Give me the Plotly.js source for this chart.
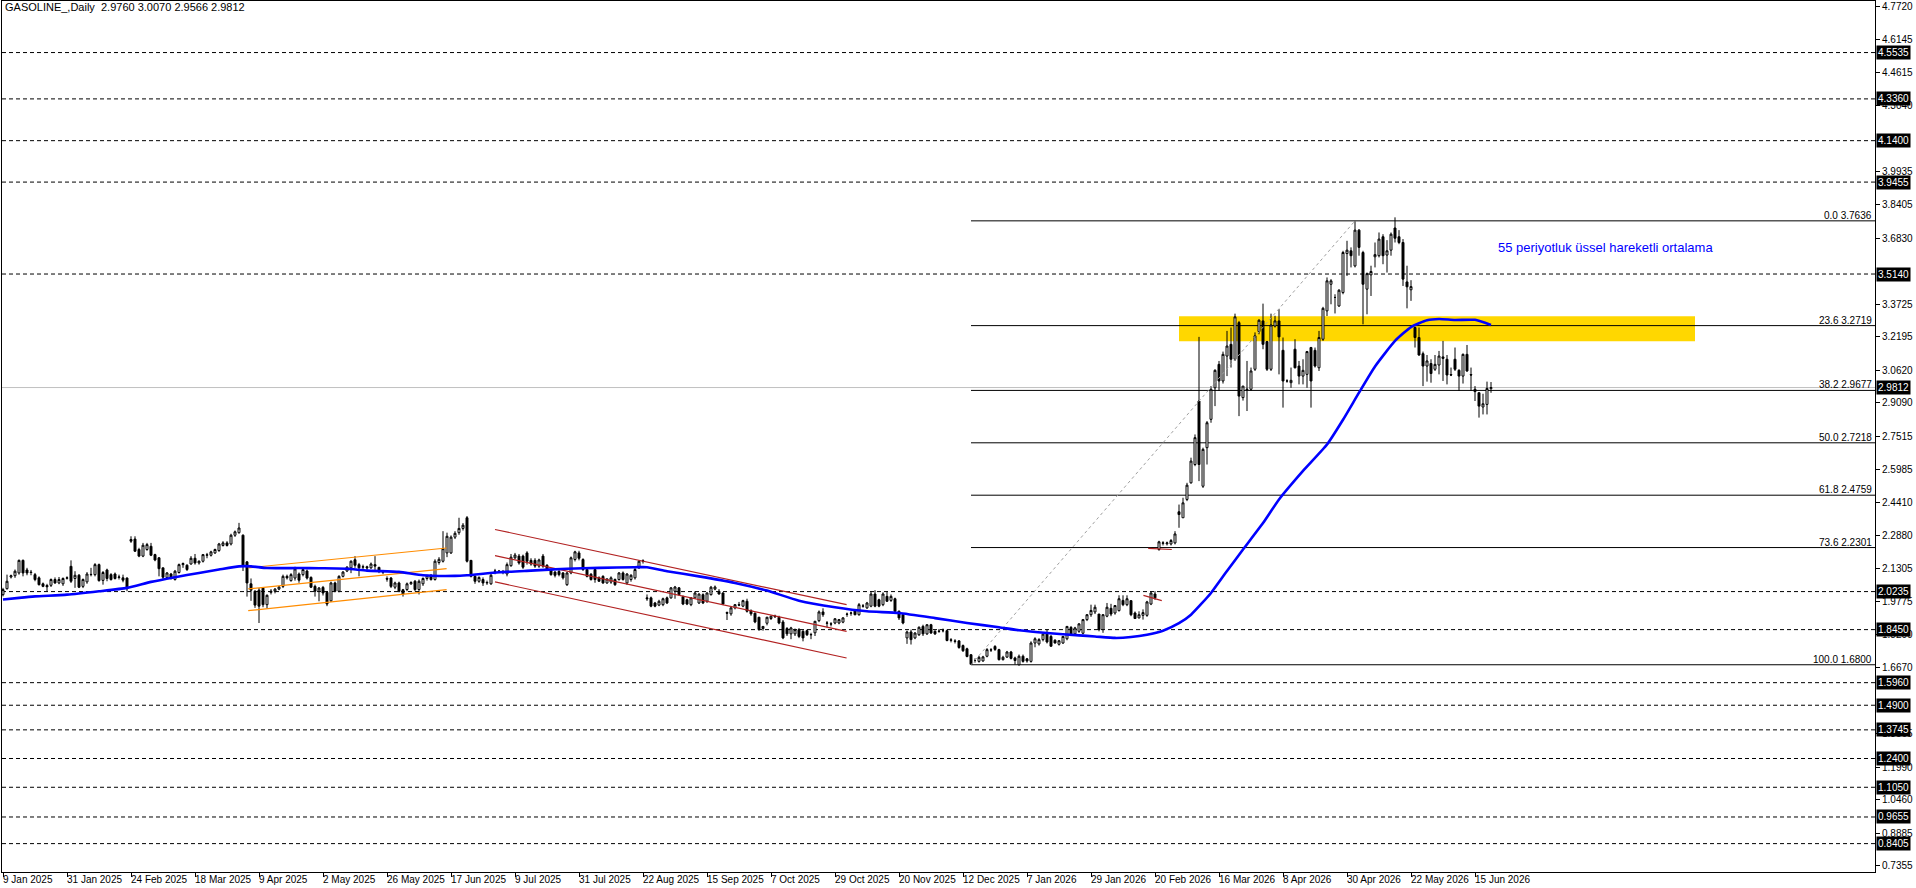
<!DOCTYPE html>
<html>
<head>
<meta charset="utf-8">
<script src="https://cdn.plot.ly/plotly-3.0.1.min.js"></script>
<style>html,body{margin:0;padding:0;background:#fff;}#chart{width:1916px;height:888px;}</style>
</head>
<body>
<div id="chart"></div>
<script>
// ---------- DATA ----------
const chartTitle = 'GASOLINE_,Daily\u00A0\u00A02.9760 3.0070 2.9566 2.9812';

const xTickLabels = ['9 Jan 2025','31 Jan 2025','24 Feb 2025','18 Mar 2025','9 Apr 2025','2 May 2025','26 May 2025','17 Jun 2025','9 Jul 2025','31 Jul 2025','22 Aug 2025','15 Sep 2025','7 Oct 2025','29 Oct 2025','20 Nov 2025','12 Dec 2025','7 Jan 2026','29 Jan 2026','20 Feb 2026','16 Mar 2026','8 Apr 2026','30 Apr 2026','22 May 2026','15 Jun 2026'];
const barsPerLabel = 16;

const open = [
2.009,2.037,2.092,2.098,2.111,2.170,2.125,2.115,2.103,2.088,
2.060,2.052,2.053,2.080,2.064,2.060,2.086,2.142,2.085,2.100,
2.048,2.069,2.103,2.103,2.150,2.076,2.125,2.103,2.106,2.090,
2.088,2.087,2.268,2.270,2.221,2.190,2.221,2.236,2.197,2.182,
2.135,2.090,2.106,2.080,2.113,2.150,2.147,2.153,2.180,2.158,
2.166,2.194,2.194,2.205,2.216,2.240,2.252,2.247,2.288,2.300,
2.288,2.163,2.060,2.025,2.030,2.040,1.962,2.020,2.025,2.035,
2.048,2.095,2.075,2.087,2.106,2.103,2.120,2.090,2.048,2.025,
2.043,2.020,1.980,2.064,2.025,2.095,2.120,2.135,2.173,2.150,
2.138,2.140,2.135,2.150,2.137,2.118,2.085,2.087,2.044,2.064,
2.032,2.033,2.060,2.072,2.033,2.060,2.085,2.100,2.080,2.160,
2.166,2.205,2.205,2.279,2.300,2.320,2.370,2.170,2.095,2.072,
2.080,2.064,2.060,2.118,2.120,2.116,2.106,2.145,2.182,2.190,
2.190,2.205,2.170,2.170,2.143,2.190,2.147,2.127,2.115,2.118,
2.111,2.056,2.111,2.174,2.205,2.174,2.127,2.105,2.127,2.088,
2.095,2.064,2.068,2.080,2.080,2.111,2.064,2.080,2.088,2.135,
2.166,1.994,1.994,1.970,1.960,1.962,1.994,1.994,2.025,2.041,
2.000,1.985,1.962,1.994,1.970,2.009,1.978,2.009,2.035,2.025,
2.017,1.925,1.919,1.947,1.962,1.955,1.978,1.934,1.922,1.903,
1.850,1.875,1.897,1.905,1.903,1.881,1.850,1.825,1.825,1.845,
1.837,1.840,1.822,1.830,1.887,1.928,1.875,1.872,1.876,1.876,
1.880,1.918,1.922,1.934,1.915,1.955,1.947,1.955,2.012,1.985,
1.962,2.001,1.982,1.990,1.931,1.915,1.806,1.834,1.806,1.821,
1.860,1.825,1.868,1.837,1.838,1.840,1.840,1.797,1.792,1.792,
1.770,1.755,1.727,1.700,1.696,1.698,1.720,1.749,1.766,1.751,
1.704,1.716,1.740,1.712,1.680,1.720,1.708,1.696,1.782,1.778,
1.798,1.824,1.813,1.795,1.776,1.782,1.802,1.855,1.825,1.837,
1.828,1.892,1.915,1.928,1.918,1.845,1.908,1.945,1.923,1.934,
1.982,1.962,1.981,1.923,1.900,1.912,1.912,1.965,2.012,2.221,
2.250,2.248,2.247,2.252,2.398,2.370,2.456,2.534,2.620,2.918,
2.518,2.699,2.832,2.980,3.090,3.012,3.129,3.184,3.114,3.286,
2.934,2.970,2.973,3.067,3.244,3.294,3.197,3.067,3.270,3.294,
3.156,3.012,3.004,3.161,3.082,3.035,3.043,3.169,3.156,3.074,
3.208,3.341,3.466,3.404,3.364,3.427,3.610,3.623,3.552,3.720,
3.615,3.443,3.510,3.595,3.600,3.689,3.603,3.626,3.730,3.689,
3.662,3.477,3.440,3.263,3.216,3.140,3.082,3.094,3.067,3.087,
3.125,3.114,3.042,3.114,3.062,3.035,3.137,3.042,2.973,2.957,
2.890,2.902,2.976];

const high = [
2.041,2.103,2.103,2.127,2.174,2.174,2.135,2.125,2.111,2.095,
2.066,2.060,2.085,2.090,2.092,2.090,2.095,2.170,2.119,2.106,
2.085,2.115,2.135,2.157,2.155,2.120,2.131,2.110,2.113,2.103,
2.103,2.090,2.283,2.283,2.229,2.252,2.252,2.252,2.201,2.185,
2.135,2.115,2.111,2.125,2.155,2.160,2.152,2.190,2.200,2.170,
2.200,2.205,2.215,2.225,2.252,2.260,2.260,2.295,2.310,2.346,
2.292,2.166,2.085,2.030,2.040,2.045,2.010,2.035,2.040,2.050,
2.103,2.103,2.110,2.140,2.113,2.133,2.127,2.095,2.056,2.045,
2.050,2.025,2.070,2.070,2.100,2.120,2.143,2.170,2.190,2.158,
2.150,2.145,2.160,2.190,2.140,2.125,2.095,2.092,2.070,2.070,
2.036,2.066,2.072,2.078,2.080,2.090,2.103,2.106,2.175,2.185,
2.307,2.300,2.287,2.307,2.370,2.345,2.378,2.172,2.100,2.095,
2.090,2.075,2.108,2.130,2.125,2.125,2.160,2.200,2.205,2.200,
2.197,2.213,2.180,2.180,2.178,2.200,2.152,2.130,2.120,2.125,
2.115,2.115,2.188,2.215,2.215,2.180,2.135,2.110,2.135,2.095,
2.100,2.085,2.095,2.085,2.115,2.118,2.110,2.105,2.135,2.170,
2.175,2.010,2.000,1.975,1.985,1.995,2.000,2.045,2.050,2.045,
2.005,1.990,1.998,2.025,2.015,2.015,2.020,2.050,2.052,2.035,
2.020,1.930,1.955,1.965,1.975,1.985,1.990,1.940,1.925,1.905,
1.862,1.905,1.910,1.915,1.910,1.890,1.857,1.858,1.850,1.852,
1.842,1.845,1.830,1.886,1.935,1.945,1.885,1.880,1.898,1.895,
1.903,1.925,1.930,1.940,1.970,1.965,1.975,2.025,2.030,1.990,
2.020,2.025,2.010,1.995,1.935,1.920,1.840,1.845,1.833,1.860,
1.868,1.870,1.872,1.842,1.848,1.850,1.845,1.805,1.800,1.796,
1.775,1.760,1.730,1.710,1.722,1.722,1.758,1.758,1.772,1.755,
1.722,1.745,1.745,1.718,1.728,1.728,1.712,1.790,1.809,1.805,
1.825,1.845,1.820,1.800,1.795,1.815,1.862,1.862,1.858,1.875,
1.895,1.918,1.962,1.962,1.918,1.918,1.970,1.966,1.960,2.006,
2.006,2.006,1.981,1.930,1.931,1.940,1.980,2.025,2.025,2.262,
2.260,2.258,2.270,2.307,2.432,2.464,2.534,2.652,2.761,3.219,
2.699,2.824,2.988,3.067,3.106,3.150,3.247,3.263,3.328,3.294,
2.988,3.106,3.075,3.240,3.302,3.375,3.200,3.328,3.318,3.349,
3.216,3.020,3.075,3.208,3.106,3.114,3.153,3.172,3.169,3.247,
3.360,3.498,3.490,3.419,3.443,3.623,3.670,3.639,3.761,3.725,
3.623,3.521,3.553,3.662,3.709,3.701,3.673,3.709,3.780,3.720,
3.678,3.553,3.485,3.266,3.263,3.150,3.134,3.114,3.134,3.153,
3.200,3.134,3.075,3.169,3.067,3.141,3.181,3.075,2.988,2.957,
2.952,3.009,3.007];

const low = [
2.001,2.033,2.085,2.088,2.103,2.095,2.100,2.100,2.072,2.052,
2.044,2.025,2.045,2.060,2.058,2.050,2.080,2.064,2.041,2.040,
2.040,2.060,2.095,2.095,2.070,2.056,2.072,2.075,2.080,2.080,
2.067,2.025,2.252,2.210,2.185,2.185,2.215,2.190,2.166,2.095,
2.080,2.085,2.080,2.075,2.108,2.135,2.120,2.150,2.150,2.150,
2.160,2.180,2.188,2.200,2.210,2.235,2.235,2.240,2.280,2.295,
2.120,2.000,1.980,1.947,1.876,1.950,1.945,2.010,2.015,2.030,
2.040,2.080,2.070,2.075,2.065,2.095,2.080,2.040,2.000,1.978,
2.005,1.955,1.975,2.020,2.020,2.090,2.115,2.110,2.135,2.095,
2.125,2.125,2.130,2.125,2.110,2.105,2.070,2.040,2.035,2.020,
2.000,2.025,2.055,2.025,2.010,2.050,2.075,2.075,2.075,2.150,
2.160,2.185,2.200,2.270,2.290,2.310,2.160,2.090,2.060,2.065,
2.050,2.055,2.055,2.105,2.110,2.105,2.095,2.140,2.175,2.150,
2.130,2.150,2.145,2.135,2.135,2.135,2.120,2.098,2.090,2.095,
2.080,2.050,2.105,2.165,2.170,2.120,2.090,2.075,2.065,2.070,
2.060,2.060,2.060,2.050,2.075,2.075,2.055,2.070,2.080,2.130,
2.155,1.980,1.950,1.950,1.955,1.955,1.965,1.990,1.990,2.005,
1.960,1.960,1.955,1.990,1.965,1.965,1.970,2.005,2.030,2.010,
1.960,1.890,1.910,1.940,1.955,1.950,1.925,1.910,1.875,1.840,
1.840,1.865,1.890,1.900,1.870,1.800,1.815,1.800,1.815,1.805,
1.790,1.815,1.800,1.815,1.880,1.905,1.855,1.860,1.870,1.870,
1.875,1.905,1.910,1.912,1.910,1.948,1.942,1.950,1.950,1.950,
1.955,1.975,1.975,1.925,1.890,1.870,1.778,1.775,1.800,1.815,
1.815,1.820,1.825,1.820,1.830,1.832,1.790,1.785,1.780,1.755,
1.740,1.715,1.680,1.690,1.690,1.694,1.715,1.740,1.745,1.700,
1.700,1.712,1.705,1.681,1.676,1.690,1.690,1.690,1.762,1.770,
1.790,1.780,1.765,1.780,1.770,1.778,1.795,1.818,1.820,1.830,
1.823,1.885,1.905,1.918,1.837,1.830,1.903,1.908,1.915,1.930,
1.955,1.955,1.908,1.895,1.897,1.892,1.905,1.960,1.985,2.215,
2.240,2.240,2.240,2.245,2.323,2.370,2.448,2.530,2.612,2.542,
2.510,2.620,2.816,2.894,2.965,3.000,3.035,3.075,3.106,2.847,
2.920,2.871,2.965,3.059,3.231,3.161,3.059,3.059,3.263,3.043,
2.887,3.004,2.980,3.071,2.996,2.996,2.980,2.887,3.075,3.059,
3.200,3.317,3.372,3.329,3.360,3.419,3.505,3.545,3.545,3.600,
3.278,3.325,3.411,3.545,3.592,3.560,3.521,3.600,3.662,3.654,
3.458,3.353,3.388,3.169,3.130,2.988,3.009,3.004,3.059,3.043,
3.012,2.996,3.035,3.059,2.965,3.000,3.055,2.965,2.918,2.840,
2.855,2.855,2.9566];

const close = [
2.033,2.072,2.098,2.119,2.170,2.111,2.111,2.113,2.080,2.056,
2.048,2.046,2.080,2.064,2.080,2.085,2.088,2.072,2.100,2.044,
2.080,2.106,2.104,2.150,2.075,2.113,2.085,2.080,2.085,2.092,
2.077,2.037,2.260,2.213,2.190,2.241,2.244,2.194,2.172,2.131,
2.091,2.111,2.088,2.119,2.150,2.155,2.127,2.180,2.158,2.166,
2.197,2.196,2.210,2.221,2.247,2.252,2.240,2.288,2.304,2.322,
2.147,2.064,2.030,1.960,1.955,1.962,2.006,2.025,2.035,2.045,
2.095,2.088,2.103,2.130,2.077,2.127,2.087,2.044,2.025,2.040,
2.017,1.965,2.064,2.025,2.095,2.115,2.138,2.166,2.147,2.135,
2.140,2.135,2.153,2.143,2.118,2.115,2.082,2.048,2.064,2.025,
2.012,2.060,2.066,2.033,2.072,2.085,2.098,2.080,2.166,2.175,
2.225,2.283,2.279,2.297,2.320,2.335,2.166,2.095,2.072,2.090,
2.064,2.066,2.100,2.120,2.118,2.118,2.150,2.185,2.195,2.158,
2.138,2.166,2.153,2.143,2.172,2.143,2.127,2.103,2.100,2.103,
2.088,2.111,2.182,2.210,2.180,2.127,2.095,2.080,2.080,2.072,
2.064,2.083,2.088,2.056,2.111,2.080,2.106,2.100,2.127,2.166,
2.168,1.990,1.955,1.955,1.978,1.990,1.970,2.041,2.045,2.009,
1.965,1.965,1.994,2.017,2.012,1.970,2.017,2.044,2.045,2.012,
1.965,1.922,1.947,1.962,1.960,1.981,1.931,1.919,1.881,1.845,
1.860,1.903,1.908,1.908,1.876,1.806,1.825,1.853,1.845,1.813,
1.806,1.821,1.821,1.884,1.928,1.915,1.876,1.871,1.896,1.892,
1.900,1.917,1.923,1.915,1.962,1.956,1.970,2.012,1.955,1.955,
2.012,1.978,2.001,1.931,1.900,1.876,1.834,1.798,1.829,1.856,
1.825,1.868,1.829,1.825,1.837,1.840,1.794,1.795,1.790,1.761,
1.746,1.719,1.682,1.700,1.715,1.717,1.751,1.750,1.752,1.704,
1.715,1.740,1.710,1.700,1.720,1.696,1.698,1.782,1.802,1.798,
1.824,1.787,1.767,1.782,1.793,1.813,1.860,1.821,1.853,1.872,
1.892,1.915,1.935,1.950,1.845,1.915,1.950,1.918,1.958,1.990,
1.962,1.990,1.915,1.897,1.915,1.925,1.975,2.017,1.994,2.257,
2.252,2.252,2.263,2.294,2.385,2.440,2.523,2.636,2.746,2.620,
2.691,2.816,2.973,3.062,3.012,3.137,3.176,3.114,3.313,2.941,
2.988,2.973,3.059,3.224,3.297,3.184,3.067,3.275,3.294,3.219,
3.012,3.012,3.015,3.074,3.035,3.062,3.150,3.012,3.082,3.216,
3.353,3.482,3.482,3.404,3.438,3.615,3.626,3.600,3.720,3.639,
3.466,3.516,3.526,3.605,3.678,3.600,3.623,3.701,3.682,3.662,
3.490,3.454,3.455,3.216,3.134,3.082,3.106,3.047,3.090,3.129,
3.118,3.040,3.040,3.067,3.035,3.137,3.059,3.040,2.962,2.894,
2.905,2.977,2.9812];

// 55-period EMA (bar index, value)
const emaIndex = [0,4,8,16,24,31,37,43,49,54,59,62,66,74,79,86,91,99,105,113,116,124,132,141,149,158,161,166,174,183,191,199,208,216,224,233,241,249,254,261,269,273,278,282,286,290,294,297,302,306,310,315,319,325,331,335,339,343,348,352,356,359,363,368,372];
const emaValue = [1.986,1.994,2.001,2.009,2.025,2.041,2.069,2.091,2.111,2.127,2.142,2.142,2.134,2.134,2.133,2.131,2.122,2.116,2.100,2.097,2.100,2.114,2.122,2.131,2.135,2.138,2.138,2.119,2.095,2.064,2.028,1.981,1.950,1.931,1.923,1.899,1.876,1.856,1.842,1.829,1.818,1.813,1.806,1.810,1.821,1.840,1.875,1.915,2.017,2.120,2.221,2.345,2.456,2.590,2.714,2.830,2.957,3.080,3.200,3.265,3.297,3.303,3.298,3.299,3.275];

// horizontal levels (dashed) and current price
const dashedLevels = [4.5535,4.3360,4.1400,3.9455,3.5140,2.0235,1.8450,1.5960,1.4900,1.3745,1.2400,1.1050,0.9655,0.8405];
const currentPrice = 2.9812;

// right-axis ticks
const yTickValues = [4.7720,4.6145,4.4615,4.3040,3.9935,3.8405,3.6830,3.3725,3.2195,3.0620,2.9090,2.7515,2.5985,2.4410,2.2880,2.1305,1.9775,1.8200,1.6670,1.3565,1.1990,1.0460,0.8885,0.7355];
const yTickLabels = ['4.7720','4.6145','4.4615','4.3040','3.9935','3.8405','3.6830','3.3725','3.2195','3.0620','2.9090','2.7515','2.5985','2.4410','2.2880','2.1305','1.9775','1.8200','1.6670','1.3565','1.1990','1.0460','0.8885','0.7355'];

// Fibonacci retracement
const fibPercents = ['0.0','23.6','38.2','50.0','61.8','73.6','100.0'];
const fibPrices = [3.7636,3.2719,2.9677,2.7218,2.4759,2.2301,1.6800];
const fibAnchor = [242, 1.6800, 338, 3.7636]; // low bar, low price, high bar, high price

// drawn trendlines: [bar0, price0, bar1, price1]
const orangeChannel = [[61.3,2.135,110.9,2.228],[61.3,2.036,110.9,2.131],[61.3,1.934,110.9,2.033]];
const redChannel = [[123,2.315,210.9,1.962],[123,2.1925,210.9,1.837],[123,2.0688,210.9,1.7116],[285.1,2.006,289.7,1.981],[286.3,2.226,292.2,2.221]];

// yellow zone: [bar0, price0, bar1, price1]
const yellowZone = [294, 3.1985, 423, 3.316];

const noteText = '55 periyotluk üssel hareketli ortalama';
const notePos = [373.2, 3.640];

// ---------- BUILD ----------
const n = close.length;
const barIdx = close.map((_, i) => i);
const xMin = -0.25, xMax = 468;
const yMin = 0.7073, yMax = 4.7955;
const FONT = 'Liberation Sans, Arial, sans-serif';

const traces = [];
traces.push({
  type: 'candlestick', x: barIdx, open: open, high: high, low: low, close: close,
  increasing: {line: {color: '#000000', width: 1}, fillcolor: '#FFFFFF'},
  decreasing: {line: {color: '#000000', width: 1}, fillcolor: '#000000'},
  whiskerwidth: 0, hoverinfo: 'skip', showlegend: false
});
function seg(lines, color, width, dash) {
  const xs = [], ys = [];
  lines.forEach(l => { xs.push(l[0], l[2], null); ys.push(l[1], l[3], null); });
  return {type: 'scatter', mode: 'lines', x: xs, y: ys, line: {color: color, width: width, dash: dash || 'solid'}, hoverinfo: 'skip', showlegend: false};
}
traces.push(seg(orangeChannel, '#FF8C00', 1.2));
traces.push(seg(redChannel, '#B22222', 1.2));
traces.push(seg([fibAnchor], '#A0A0A0', 1, '3px,3px'));
traces.push({type: 'scatter', mode: 'lines', x: emaIndex, y: emaValue, line: {color: '#0000FF', width: 2.6, shape: 'spline', smoothing: 0.5}, hoverinfo: 'skip', showlegend: false});

const shapes = [];
shapes.push({type: 'rect', layer: 'below', xref: 'x', yref: 'y', x0: yellowZone[0], x1: yellowZone[2], y0: yellowZone[1], y1: yellowZone[3], fillcolor: '#FFD700', line: {width: 0}});
dashedLevels.forEach(v => shapes.push({type: 'line', layer: 'below', xref: 'paper', yref: 'y', x0: 0, x1: 1, y0: v, y1: v, line: {color: '#000000', width: 1, dash: '4px,3px'}}));
shapes.push({type: 'line', layer: 'below', xref: 'paper', yref: 'y', x0: 0, x1: 1, y0: currentPrice, y1: currentPrice, line: {color: '#C0C0C0', width: 1}});
fibPrices.forEach(v => shapes.push({type: 'line', layer: 'below', xref: 'x', yref: 'y', x0: fibAnchor[0], x1: xMax, y0: v, y1: v, line: {color: '#000000', width: 1}}));

const annotations = [];
// date labels, left-aligned at their tick like the original terminal
xTickLabels.forEach((t, k) => annotations.push({
  xref: 'x', yref: 'paper', x: k * barsPerLabel, y: 0, xanchor: 'left', yanchor: 'top', xshift: -1, yshift: -1,
  text: t, showarrow: false, borderpad: 0, font: {family: FONT, size: 10, color: '#000000'}
}));
fibPrices.forEach((v, k) => annotations.push({
  xref: 'paper', yref: 'y', x: 1, y: v, xanchor: 'right', yanchor: 'bottom', xshift: -1, yshift: -2,
  text: fibPercents[k] + ' ' + v.toFixed(4), showarrow: false, font: {family: FONT, size: 10, color: '#000000'}
}));
dashedLevels.concat([currentPrice]).forEach(v => annotations.push({
  xref: 'paper', yref: 'y', x: 1, y: v, xanchor: 'left', yanchor: 'middle', xshift: 1,
  text: v.toFixed(4), showarrow: false, bgcolor: '#000000', borderpad: 1,
  font: {family: FONT, size: 10, color: '#FFFFFF'}
}));
annotations.push({xref: 'x', yref: 'y', x: notePos[0], y: notePos[1], xanchor: 'left', yanchor: 'middle',
  text: noteText, showarrow: false, font: {family: FONT, size: 13, color: '#0000FF'}});

const layout = {
  width: 1916, height: 888,
  margin: {l: 2, r: 41, t: 1, b: 16, pad: 0},
  paper_bgcolor: '#FFFFFF', plot_bgcolor: '#FFFFFF',
  showlegend: false,
  title: {text: (n === high.length && n === low.length && n === open.length) ? chartTitle : chartTitle + ' LEN ' + open.length + '/' + high.length + '/' + low.length + '/' + n,
          xref: 'container', yref: 'container', x: 5 / 1916, xanchor: 'left', y: 1 - 3 / 888, yanchor: 'top',
          font: {family: FONT, size: 11, color: '#000000'}},
  xaxis: {
    range: [xMin, xMax], showgrid: false, zeroline: false,
    showline: true, linecolor: '#000000', linewidth: 1, mirror: true,
    ticks: 'outside', ticklen: 4, tickcolor: '#000000', tickwidth: 1,
    tickvals: xTickLabels.map((_, k) => k * barsPerLabel), showticklabels: false,
    rangeslider: {visible: false}, fixedrange: true
  },
  yaxis: {
    side: 'right', range: [yMin, yMax], showgrid: false, zeroline: false,
    showline: true, linecolor: '#000000', linewidth: 1, mirror: true,
    ticks: 'outside', ticklen: 4, tickcolor: '#000000', tickwidth: 1,
    tickvals: yTickValues, ticktext: yTickLabels,
    tickfont: {family: FONT, size: 10, color: '#000000'}, fixedrange: true
  },
  shapes: shapes,
  annotations: annotations
};

Plotly.newPlot('chart', traces, layout, {displayModeBar: false, staticPlot: true});
</script>
</body>
</html>
